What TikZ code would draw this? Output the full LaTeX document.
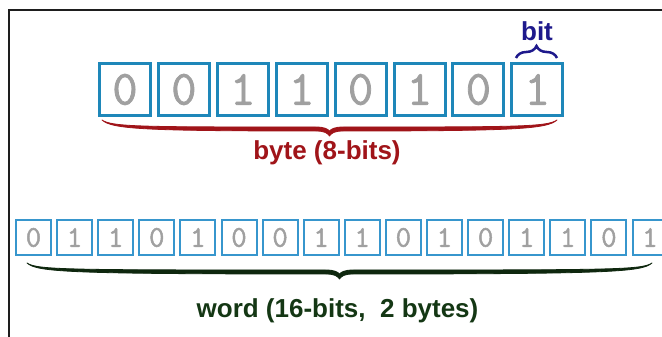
\documentclass[tikz,border=0pt]{standalone}
\usepackage{fontspec}
\setmainfont{Liberation Sans}
\newfontfamily\digitfont{Latin Modern Mono}[FakeBold=1.6]
\usepackage{tikz}
\usetikzlibrary{positioning}
\usetikzlibrary{decorations.pathreplacing}

\definecolor{boxblue}{RGB}{30,135,185}
\definecolor{wordblue}{RGB}{55,150,205}
\definecolor{digitgray}{RGB}{160,160,160}
\definecolor{bytered}{RGB}{160,20,25}
\definecolor{bitblue}{RGB}{30,25,140}
\definecolor{wordgreen}{RGB}{20,55,20}
\definecolor{framegray}{RGB}{30,30,30}

\tikzset{
    bytebox/.style = {draw=boxblue, line width=3pt, inner sep=0pt,
        minimum width=51pt, minimum height=52pt, text=digitgray,
        font=\digitfont\fontsize{49}{49}\selectfont},
    wordbox/.style = {draw=wordblue, line width=2pt, inner sep=0pt,
        minimum width=35pt, minimum height=35pt, text=digitgray,
        font=\digitfont\fontsize{30}{30}\selectfont},
    caption/.style = {inner sep=0pt, anchor=base,
        font=\bfseries\fontsize{26}{30}\selectfont}
}

% long curly brace pointing down: left x, right x, end y, colour
\newcommand{\longbrace}[4]{%
  \pgfmathsetmacro{\bm}{(#1+#2)/2}
  \filldraw [#4, line width=0.8pt, line join=round]
       (#1,#3) .. controls ({#1+10},{#3-7}) and ({#1+40},{#3-7}) .. ({\bm-14},{#3-7})
    .. controls ({\bm-5},{#3-7}) and ({\bm-2},{#3-9}) .. (\bm,{#3-11})
    .. controls ({\bm+2},{#3-9}) and ({\bm+5},{#3-7}) .. ({\bm+14},{#3-7})
    .. controls ({#2-40},{#3-7}) and ({#2-10},{#3-7}) .. (#2,#3)
    .. controls ({#2-10},{#3-9}) and ({#2-40},{#3-11}) .. ({\bm+14},{#3-11})
    .. controls ({\bm+5},{#3-11}) and ({\bm+2},{#3-13}) .. (\bm,{#3-16})
    .. controls ({\bm-2},{#3-13}) and ({\bm-5},{#3-11}) .. ({\bm-14},{#3-11})
    .. controls ({#1+40},{#3-11}) and ({#1+10},{#3-9}) .. cycle;
}

\begin{document}
\begin{tikzpicture}[x=1pt, y=1pt]
  \useasboundingbox (0,0) rectangle (662,337);
  \clip (0,0) rectangle (662,337);
  \fill [white] (0,0) rectangle (662,337);
  \draw [framegray, line width=2pt] (9,-20) rectangle (690,327);

  % one byte
  \foreach \d [count=\i] in {0,0,1,1,0,1,0,1}
    \node [bytebox] (b\i) at ({125+58.9*(\i-1)}, 247.5) {\d};

  % one word
  \foreach \d [count=\i] in {0,1,1,0,1,0,0,1,1,0,1,0,1,1,0,1}
    \node [wordbox] (w\i) at ({33.5+41.1*(\i-1)}, 99.5) {\d};

  % braces
  \coordinate (bitl) at (516,279);
  \coordinate (bitr) at (557,279);
  \draw [bitblue, line width=2.5pt,
    decorate, decoration={brace, amplitude=12pt}] (bitl) -- (bitr);
  \longbrace{102}{557}{217}{bytered}
  \longbrace{27}{652}{74}{wordgreen!70!black}

  % labels
  \node [caption, text=bitblue] (bitlbl) at (537,296) {bit};
  \node [caption, text=bytered] (bytelbl) at (327,177) {byte (8-bits)};
  \node [caption, text=wordgreen] (wordlbl) at (337.5,19) {word (16-bits,\ \ 2 bytes)};
\end{tikzpicture}
\end{document}
